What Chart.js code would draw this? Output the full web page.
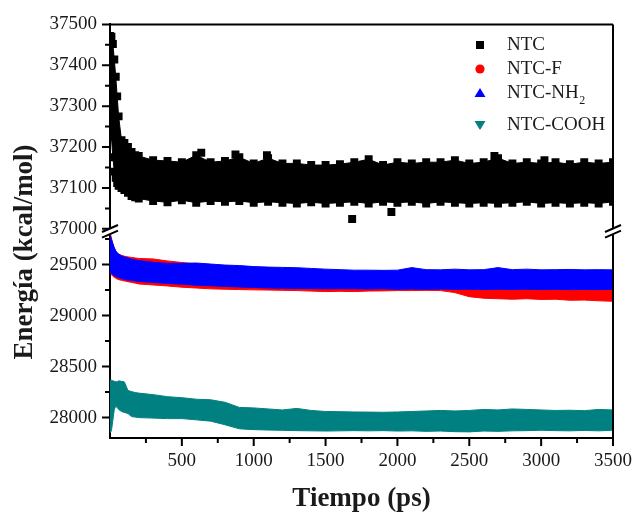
<!DOCTYPE html>
<html>
<head>
<meta charset="utf-8">
<script src="https://cdn.jsdelivr.net/npm/chart.js@4.4.1/dist/chart.umd.min.js"></script>
<style>
  html, body { margin: 0; padding: 0; background: #fff; }
  canvas { display: block; }
</style>
</head>
<body>
<canvas id="grafico" width="644" height="514"></canvas>
<script>
// Simulation time (ps) at which the upper / lower edge of each energy band is sampled
const tiempo = [0, 10, 20, 30, 40, 50, 60, 80, 100, 125, 150, 175, 200,
  300, 400, 500, 600, 700, 800, 900, 1000, 1100, 1200, 1300, 1400, 1500,
  1600, 1700, 1800, 1900, 2000, 2100, 2200, 2300, 2400, 2500, 2600, 2700,
  2800, 2900, 3000, 3100, 3200, 3300, 3400, 3500];

// NTC (kcal/mol): upper and lower edge of the fluctuation band
const ntcSup = [37472, 37470, 37452, 37414, 37372, 37324, 37275, 37217, 37210, 37200, 37188, 37180, 37178,
  37168, 37166, 37163, 37180, 37163, 37166, 37175, 37160, 37173, 37160, 37160, 37156, 37156,
  37158, 37163, 37170, 37156, 37163, 37160, 37163, 37163, 37168, 37160, 37163, 37173,
  37160, 37163, 37160, 37163, 37158, 37163, 37160, 37163];
const ntcInf = [37255, 37225, 37175, 37140, 37125, 37112, 37105, 37100, 37095, 37088, 37080, 37077, 37074,
  37068, 37065, 37070, 37064, 37068, 37066, 37068, 37064, 37066, 37064, 37062, 37065, 37062,
  37064, 37066, 37062, 37066, 37064, 37066, 37062, 37066, 37064, 37062, 37064, 37062,
  37064, 37066, 37062, 37064, 37062, 37064, 37062, 37066];
// NTC points standing out of the band
const ntcSueltosT = [635, 873, 1092, 1685, 1958, 2675, 3023];
const ntcSueltosE = [37186, 37182, 37180, 37024, 37041, 37178, 37168];

// NTC-F
const ntcFSup = [29820, 29760, 29700, 29660, 29630, 29610, 29600, 29590, 29582, 29575, 29570, 29565, 29560,
  29555, 29535, 29520, 29505, 29490, 29480, 29470, 29460, 29450, 29445, 29440, 29435, 29430,
  29428, 29425, 29425, 29420, 29420, 29420, 29418, 29415, 29405, 29380, 29365, 29360,
  29360, 29355, 29355, 29352, 29355, 29350, 29350, 29345];
const ntcFInf = [29420, 29400, 29385, 29375, 29365, 29358, 29352, 29345, 29340, 29332, 29325, 29318, 29310,
  29300, 29290, 29278, 29270, 29262, 29258, 29255, 29252, 29250, 29247, 29245, 29240, 29235,
  29238, 29235, 29240, 29242, 29245, 29245, 29247, 29245, 29225, 29185, 29170, 29165,
  29160, 29165, 29158, 29160, 29150, 29152, 29145, 29140];

// NTC-NH2
const ntcNH2Sup = [29785, 29745, 29707, 29665, 29635, 29615, 29605, 29585, 29575, 29565, 29552, 29545, 29540,
  29522, 29511, 29512, 29515, 29505, 29495, 29490, 29480, 29475, 29472, 29469, 29462, 29455,
  29450, 29445, 29445, 29443, 29445, 29470, 29450, 29448, 29455, 29448, 29450, 29470,
  29450, 29455, 29448, 29450, 29452, 29448, 29450, 29448];
const ntcNH2Inf = [29410, 29420, 29400, 29390, 29382, 29378, 29372, 29362, 29355, 29348, 29345, 29340, 29335,
  29325, 29315, 29308, 29298, 29292, 29286, 29280, 29276, 29270, 29268, 29265, 29264, 29262,
  29263, 29262, 29260, 29262, 29258, 29260, 29258, 29260, 29257, 29258, 29255, 29258,
  29256, 29258, 29255, 29257, 29254, 29256, 29254, 29256];

// NTC-COOH
const ntcCOOHSup = [28367, 28367, 28360, 28355, 28352, 28350, 28360, 28355, 28350, 28265, 28255, 28245, 28240,
  28225, 28205, 28195, 28180, 28175, 28150, 28100, 28095, 28085, 28075, 28090, 28070, 28060,
  28058, 28055, 28054, 28052, 28055, 28060, 28065, 28070, 28065, 28070, 28080, 28075,
  28085, 28080, 28075, 28070, 28072, 28068, 28080, 28075];
const ntcCOOHInf = [27850, 27870, 27975, 28080, 28110, 28100, 28080, 28060, 28050, 28040, 28010, 28005, 28000,
  27995, 27990, 27990, 27978, 27965, 27930, 27890, 27882, 27878, 27875, 27872, 27870, 27868,
  27870, 27872, 27870, 27872, 27868, 27870, 27865, 27868, 27862, 27860, 27868, 27865,
  27870, 27872, 27876, 27872, 27870, 27874, 27870, 27876];

// Axis ticks (major ones carry a label)
const ticksTiempo = [250, 500, 750, 1000, 1250, 1500, 1750, 2000, 2250, 2500, 2750, 3000, 3250, 3500];
const ticksEnergiaAlta = [37000, 37050, 37100, 37150, 37200, 37250, 37300, 37350, 37400, 37450, 37500];
const ticksEnergiaBaja = [28000, 28250, 28500, 28750, 29000, 29250, 29500, 29750];

// Axis ranges: upper panel and lower panel of the broken energy axis
const rangoTiempo = [0, 3500];
const rangoAlto = [36987.5, 37500];
const rangoBajo = [27800, 29800];

const series = ['NTC', 'NTC-F', 'NTC-NH\u2082', 'NTC-COOH'];
const coloresSerie = ['#000000', '#ff0000', '#0000ff', '#008080'];

const FUENTE = "'Liberation Serif', 'Times New Roman', serif";
const TINTA = '#1a1a1a';

const puntos = (ys) => tiempo.map((t, i) => ({ x: t, y: ys[i] }));

// A band is its lower edge plus its upper edge filled down to the lower one
function banda(nombre, sup, inf, color, eje, orden, cuadros) {
  const comun = {
    type: 'line', label: nombre, yAxisID: eje, order: orden,
    borderColor: color, backgroundColor: color, borderWidth: 1, tension: 0,
    pointStyle: cuadros ? 'rect' : false, pointRadius: cuadros ? 5.6 : 0,
    pointBorderWidth: 0, pointBackgroundColor: color
  };
  return [
    Object.assign({}, comun, { data: puntos(inf), fill: false }),
    Object.assign({}, comun, { data: puntos(sup), fill: '-1' })
  ];
}

const datasets = [
  ...banda(series[2], ntcNH2Sup, ntcNH2Inf, coloresSerie[2], 'yBaja', 1, false),
  ...banda(series[1], ntcFSup, ntcFInf, coloresSerie[1], 'yBaja', 2, false),
  ...banda(series[3], ntcCOOHSup, ntcCOOHInf, coloresSerie[3], 'yBaja', 3, false),
  ...banda(series[0], ntcSup, ntcInf, coloresSerie[0], 'yAlta', 3, true),
  {
    type: 'line', label: series[0], yAxisID: 'yAlta', order: 3, showLine: false,
    data: ntcSueltosT.map((t, i) => ({ x: t, y: ntcSueltosE[i] })),
    pointStyle: 'rect', pointRadius: 5.6, pointBorderWidth: 0,
    pointBackgroundColor: coloresSerie[0], borderColor: coloresSerie[0]
  }
];

function fijarTicks(valores) {
  return (escala) => { escala.ticks = valores.map(v => ({ value: v })); };
}

function ejeY(rango, ticks, paso, peso) {
  return {
    type: 'linear', position: 'left', stack: 'energia', stackWeight: peso,
    min: rango[0], max: rango[1],
    afterBuildTicks: fijarTicks(ticks),
    afterFit: (e) => { e.width = 110; },
    grid: { display: false, drawTicks: false, tickLength: 0 },
    border: { display: true, width: 2, color: '#000' },
    ticks: {
      autoSkip: false, padding: 13, color: TINTA,
      font: { family: FUENTE, size: 19 },
      callback: (v) => (v % paso === 0 ? String(v) : '')
    }
  };
}

// Tick marks: long for labelled values, short for the ones in between
const marcas = {
  id: 'marcas',
  afterDraw(chart) {
    const ctx = chart.ctx;
    const a = chart.chartArea;
    ctx.save();
    ctx.strokeStyle = '#000';
    ctx.lineWidth = 2;
    ctx.beginPath();
    const x = chart.scales.x;
    x.ticks.forEach(t => {
      const px = x.getPixelForValue(t.value);
      const l = t.value % 500 === 0 ? 8 : 5;
      ctx.moveTo(px, a.bottom); ctx.lineTo(px, a.bottom + l);
    });
    [['yAlta', 100], ['yBaja', 500]].forEach(([id, paso]) => {
      const e = chart.scales[id];
      e.ticks.forEach(t => {
        const py = e.getPixelForValue(t.value);
        const l = t.value % paso === 0 ? 8 : 5;
        ctx.moveTo(a.left - l, py); ctx.lineTo(a.left, py);
      });
    });
    // top and right sides of the frame
    ctx.moveTo(a.left - 1, a.top); ctx.lineTo(a.right, a.top);
    ctx.moveTo(a.right, a.top); ctx.lineTo(a.right, a.bottom + 1);
    ctx.stroke();

    // axis break marks on both vertical sides
    const yb = chart.scales.yAlta.getPixelForValue(37000) + 2.5;
    [a.left, a.right].forEach(xa => {
      const dx = 8, dy = 3.5, s = 2.8;
      ctx.fillStyle = '#fff';
      ctx.beginPath();
      ctx.moveTo(xa - dx + 2, yb - s + dy - 1);
      ctx.lineTo(xa + dx - 2, yb - s - dy + 1);
      ctx.lineTo(xa + dx - 2, yb + s - dy + 1);
      ctx.lineTo(xa - dx + 2, yb + s + dy - 1);
      ctx.closePath();
      ctx.fill();
      ctx.beginPath();
      ctx.moveTo(xa - dx, yb - s + dy); ctx.lineTo(xa + dx, yb - s - dy);
      ctx.moveTo(xa - dx, yb + s + dy); ctx.lineTo(xa + dx, yb + s - dy);
      ctx.stroke();
    });
    ctx.restore();
  }
};

// Legend in the upper right corner of the plot
const leyenda = {
  id: 'leyenda',
  afterDraw(chart) {
    const ctx = chart.ctx;
    const filas = [45, 69, 93, 125];
    const xm = 480, xt = 507;
    ctx.save();
    series.forEach((nombre, i) => {
      const y = filas[i];
      ctx.fillStyle = coloresSerie[i];
      ctx.beginPath();
      if (i === 0) ctx.rect(xm - 4, y - 4, 8, 8);
      else if (i === 1) ctx.arc(xm, y, 4.6, 0, 2 * Math.PI);
      else if (i === 2) { ctx.moveTo(xm, y - 5); ctx.lineTo(xm + 5.5, y + 4); ctx.lineTo(xm - 5.5, y + 4); ctx.closePath(); }
      else { ctx.moveTo(xm, y + 5); ctx.lineTo(xm + 5.5, y - 4); ctx.lineTo(xm - 5.5, y - 4); ctx.closePath(); }
      ctx.fill();

      ctx.fillStyle = TINTA;
      ctx.textAlign = 'left';
      ctx.textBaseline = 'middle';
      ctx.font = '19px ' + FUENTE;
      const partes = nombre.split('\u2082');
      ctx.fillText(partes[0], xt, y);
      if (partes.length > 1) {
        const w = ctx.measureText(partes[0]).width;
        ctx.font = '12px ' + FUENTE;
        ctx.fillText('2', xt + w + 0.5, y + 8);
      }
    });
    ctx.restore();
  }
};

// Axis titles
const titulos = {
  id: 'titulos',
  afterDraw(chart) {
    const ctx = chart.ctx;
    const a = chart.chartArea;
    ctx.save();
    ctx.fillStyle = TINTA;
    ctx.font = 'bold 27px ' + FUENTE;
    ctx.textAlign = 'center';
    ctx.textBaseline = 'alphabetic';
    ctx.fillText('Tiempo (ps)', (a.left + a.right) / 2, 506);
    ctx.translate(32, 252);
    ctx.rotate(-Math.PI / 2);
    ctx.fillText('Energía (kcal/mol)', 0, 0);
    ctx.restore();
  }
};

new Chart(document.getElementById('grafico'), {
  type: 'line',
  data: { datasets },
  options: {
    responsive: false,
    animation: false,
    devicePixelRatio: 1,
    layout: { padding: { top: 23, right: 21, bottom: 0, left: 0 } },
    plugins: { legend: { display: false }, tooltip: { enabled: false } },
    scales: {
      x: {
        type: 'linear', position: 'bottom',
        min: rangoTiempo[0], max: rangoTiempo[1],
        afterBuildTicks: fijarTicks(ticksTiempo),
        afterFit: (e) => { e.height = 76; },
        grid: { display: false, drawTicks: false, tickLength: 0 },
        border: { display: true, width: 2, color: '#000' },
        ticks: {
          autoSkip: false, maxRotation: 0, padding: 12, color: TINTA,
          font: { family: FUENTE, size: 19 },
          callback: (v) => (v % 500 === 0 ? String(v) : '')
        }
      },
      // left boxes are stacked in reverse order of definition: lower panel first
      yBaja: ejeY(rangoBajo, ticksEnergiaBaja, 500, 204.5),
      yAlta: ejeY(rangoAlto, ticksEnergiaAlta, 100, 210)
    }
  },
  plugins: [marcas, leyenda, titulos]
});
</script>
</body>
</html>
